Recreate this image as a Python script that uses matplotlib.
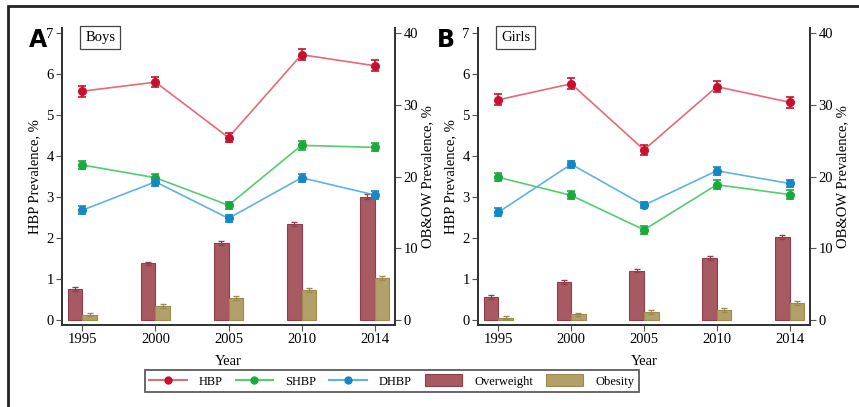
import numpy as np
import matplotlib
matplotlib.use("Agg")
import matplotlib.pyplot as plt
from matplotlib.patches import Rectangle
from matplotlib.lines import Line2D

plt.rcParams['font.family'] = ['Liberation Serif', 'DejaVu Serif']

years = ['1995', '2000', '2005', '2010', '2014']

# Boys
boys_hbp = [5.58, 5.80, 4.45, 6.47, 6.20]
boys_shbp = [3.78, 3.47, 2.80, 4.26, 4.21]
boys_dhbp = [2.68, 3.37, 2.48, 3.47, 3.05]
boys_ow = [4.35, 7.9, 10.7, 13.4, 17.2]
boys_ob = [0.75, 2.0, 3.05, 4.2, 5.9]

# Girls
girls_hbp = [5.37, 5.76, 4.15, 5.69, 5.31]
girls_shbp = [3.48, 3.04, 2.20, 3.30, 3.06]
girls_dhbp = [2.63, 3.80, 2.80, 3.64, 3.33]
girls_ow = [3.25, 5.3, 6.9, 8.6, 11.6]
girls_ob = [0.35, 0.8, 1.1, 1.45, 2.35]

# error half-widths
hbp_err = [0.13, 0.13, 0.12, 0.13, 0.13]
shbp_err = [0.10, 0.10, 0.09, 0.11, 0.10]
dhbp_err = [0.09, 0.09, 0.08, 0.10, 0.09]
bar_err = [0.25, 0.25, 0.25, 0.3, 0.3]

c_hbp = ('#e36b78', '#c8102e')
c_shbp = ('#55cc70', '#1aaa3c')
c_dhbp = ('#5fb3de', '#1388c4')
c_ow = ('#a85a62', '#8e3e4c')
c_ob = ('#b3a068', '#9c8a50')

fig = plt.figure(figsize=(8.59, 4.07), dpi=100)

# outer frame
fig.patches.append(Rectangle((8 / 859, -0.1), 1.2, (407 - 6) / 407 + 0.1,
                             transform=fig.transFigure, fill=False,
                             edgecolor='#222222', linewidth=2.0))


def panel(rect, letter, letter_x, title, hbp, shbp, dhbp, ow, ob):
    ax = fig.add_axes(rect)
    ax2 = ax.twinx()
    x = np.arange(len(years))

    # bars on the right axis
    ax2.bar(x - 0.1, ow, width=0.2, color=c_ow[0], edgecolor=c_ow[1], linewidth=0.8)
    ax2.bar(x + 0.1, ob, width=0.2, color=c_ob[0], edgecolor=c_ob[1], linewidth=0.8)
    ax2.errorbar(x - 0.1, ow, yerr=bar_err, fmt='none', ecolor=c_ow[1], capsize=2.5, elinewidth=0.8)
    ax2.errorbar(x + 0.1, ob, yerr=bar_err, fmt='none', ecolor=c_ob[1], capsize=2.5, elinewidth=0.8)

    for vals, err, c in [(hbp, hbp_err, c_hbp), (shbp, shbp_err, c_shbp), (dhbp, dhbp_err, c_dhbp)]:
        ax.plot(x, vals, color=c[0], lw=1.2, zorder=2)
        ax.errorbar(x, vals, yerr=err, fmt='o', color=c[1], ms=5.5, capsize=3,
                    elinewidth=1.2, capthick=1.2, zorder=3)

    ax.set_zorder(ax2.get_zorder() + 1)
    ax.patch.set_visible(False)

    ax.set_xlim(-0.28, 4.28)
    ax.set_ylim(-0.12, 7.12)
    ax2.set_ylim(-0.12 * 40 / 7, 7.12 * 40 / 7)
    ax.set_xticks(x)
    ax.set_xticklabels(years)
    ax.set_yticks(range(8))
    ax2.set_yticks([0, 10, 20, 30, 40])

    for a in (ax, ax2):
        a.spines['top'].set_visible(False)
        for s in ('left', 'right', 'bottom'):
            a.spines[s].set_color('#333333')
            a.spines[s].set_linewidth(1.3)
        a.tick_params(labelsize=10.5, length=4, width=0.8, color='#555555', pad=2)

    ax.set_ylabel('HBP Prevalence, %', fontsize=10.5, labelpad=4)
    ax2.set_ylabel('OB&OW Prevalence, %', fontsize=10.5, labelpad=2)
    ax.set_xlabel('Year', fontsize=10.5, labelpad=6)

    ax.text(letter_x, 1.0, letter, transform=ax.transAxes, fontsize=17,
            fontweight='bold', family='DejaVu Sans', ha='right', va='top')
    ax.text(0.07, 0.99, title, transform=ax.transAxes, fontsize=10.5,
            ha='left', va='top',
            bbox=dict(boxstyle='square,pad=0.35', fc='white', ec='#444444', lw=0.9))
    return ax


bottom = 1 - 325 / 407
height = (325 - 28) / 407
panel([62 / 859, bottom, 333 / 859, height], 'A', -0.045, 'Boys',
      boys_hbp, boys_shbp, boys_dhbp, boys_ow, boys_ob)
panel([478 / 859, bottom, 332 / 859, height], 'B', -0.07, 'Girls',
      girls_hbp, girls_shbp, girls_dhbp, girls_ow, girls_ob)

handles = [
    Line2D([], [], color=c_hbp[0], lw=1.5, marker='o', mfc=c_hbp[1], mec=c_hbp[1], ms=5),
    Line2D([], [], color=c_shbp[0], lw=1.5, marker='o', mfc=c_shbp[1], mec=c_shbp[1], ms=5),
    Line2D([], [], color=c_dhbp[0], lw=1.5, marker='o', mfc=c_dhbp[1], mec=c_dhbp[1], ms=5),
    Rectangle((0, 0), 1, 1, fc=c_ow[0], ec=c_ow[1], lw=0.8),
    Rectangle((0, 0), 1, 1, fc=c_ob[0], ec=c_ob[1], lw=0.8),
]
labels = ['HBP', 'SHBP', 'DHBP', 'Overweight', 'Obesity']
leg = fig.legend(handles, labels, loc='center', bbox_to_anchor=(392 / 859, 1 - 381 / 407),
                 ncol=5, fontsize=9, frameon=True, fancybox=False, edgecolor='#333333',
                 handlelength=3.0, handleheight=1.1, columnspacing=1.0, handletextpad=1.0,
                 borderpad=0.35)
leg.get_frame().set_linewidth(1.3)

fig.savefig('out.png', dpi=100)
